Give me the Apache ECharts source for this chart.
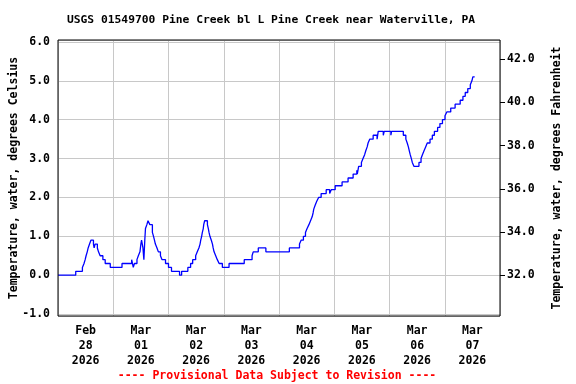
<!DOCTYPE html>
<html>
<head>
<meta charset="utf-8">
<script src="https://cdn.jsdelivr.net/npm/echarts@6/dist/echarts.min.js"></script>
<style>html,body{margin:0;padding:0;background:#fff;}#c{width:576px;height:384px;}</style>
</head>
<body>
<div id="c"></div>
<script>
// Day categories (x labels, centred on each day)
const dayLabels = ["Feb\n28\n2026","Mar\n01\n2026","Mar\n02\n2026","Mar\n03\n2026","Mar\n04\n2026","Mar\n05\n2026","Mar\n06\n2026","Mar\n07\n2026"];
// Hours since 2026-02-28 00:00 where the reading changes
const hours = [0,7.7,10.6,11.3,11.8,12.2,12.7,13.1,13.7,14.3,15.4,15.7,16.1,17.1,17.6,18.3,19.5,20.5,22.7,
27.8,32.0,32.7,33.2,34.3,34.9,35.6,36.0,36.3,36.9,37.3,37.7,38.0,38.6,39.1,39.9,41.0,41.5,41.9,42.3,43.0,43.6,44.5,45.2,46.7,
48.0,49.3,52.8,53.7,56.4,57.6,58.5,59.8,60.5,61.2,61.7,62.0,62.4,62.7,63.1,63.3,63.7,64.9,65.3,65.6,66.0,66.6,67.1,67.4,67.8,68.5,69.2,70.0,71.4,
74.3,80.9,84.3,84.8,87.0,90.3,100.5,104.9,105.6,106.6,107.5,108.2,109.0,109.7,110.4,110.8,111.1,111.7,112.4,113.2,114.3,116.5,118.0,118.7,
120.4,123.4,126.0,128.2,129.8,130.0,130.6,131.8,132.5,133.2,133.7,134.3,134.7,135.4,136.9,138.6,139.1,141.3,141.7,144.6,144.9,
150.0,151.1,151.7,152.2,152.6,153.0,153.5,153.9,154.6,156.8,157.7,158.3,159.0,159.7,160.4,161.6,162.6,163.5,164.9,165.9,167.0,
168.1,168.9,170.6,172.5,174.7,175.9,176.9,178.0,179.1,179.8,180.2,181.0];
// Water temperature, degrees Celsius
const tempC = [0.0,0.1,0.2,0.3,0.4,0.5,0.6,0.7,0.8,0.9,0.8,0.7,0.8,0.7,0.6,0.5,0.4,0.3,0.2,
0.3,0.4,0.2,0.3,0.4,0.5,0.6,0.8,0.9,0.7,0.4,0.9,1.2,1.3,1.4,1.3,1.1,1.0,0.9,0.8,0.7,0.6,0.5,0.4,0.3,
0.2,0.1,0.0,0.1,0.2,0.3,0.4,0.5,0.6,0.7,0.8,0.9,1.0,1.1,1.2,1.3,1.4,1.3,1.2,1.1,1.0,0.9,0.8,0.7,0.6,0.5,0.4,0.3,0.2,
0.3,0.4,0.5,0.6,0.7,0.6,0.7,0.8,0.9,1.0,1.1,1.2,1.3,1.4,1.5,1.6,1.7,1.8,1.9,2.0,2.1,2.2,2.1,2.2,
2.3,2.4,2.5,2.6,2.7,2.6,2.8,2.9,3.0,3.1,3.2,3.3,3.4,3.5,3.6,3.5,3.7,3.6,3.7,3.6,3.7,
3.6,3.5,3.4,3.3,3.2,3.1,3.0,2.9,2.8,2.9,3.0,3.1,3.2,3.3,3.4,3.5,3.6,3.7,3.8,3.9,4.0,
4.1,4.2,4.3,4.4,4.5,4.6,4.7,4.8,4.9,5.0,5.1,5.1];

const FONT = '"DejaVu Sans Mono", monospace';
const cMin = -1.05, cMax = 6.05;
const chart = echarts.init(document.getElementById('c'), null, {renderer:'canvas'});
chart.setOption({
  animation: false,
  backgroundColor: '#fff',
  title: [
    {text: 'USGS 01549700 Pine Creek bl L Pine Creek near Waterville, PA', left: 266, top: 10, textAlign: 'center',
     textStyle: {fontFamily: FONT, fontSize: 11.3, fontWeight: 'bold', color: '#000'}},
    {text: '---- Provisional Data Subject to Revision ----', left: 272, top: 365, textAlign: 'center',
     textStyle: {fontFamily: FONT, fontSize: 11.5, fontWeight: 'bold', color: '#ff0000'}}
  ],
  grid: {left: 58, right: 76, top: 40, bottom: 68, outerBoundsMode: 'none', containLabel: false,
         show: true, z: 10, borderColor: '#000', borderWidth: 1, backgroundColor: 'transparent'},
  xAxis: [
    {type: 'category', data: dayLabels, boundaryGap: true,
     axisLine: {show: false}, axisTick: {show: false},
     splitLine: {show: true, lineStyle: {color: '#c8c8c8', width: 1}},
     axisLabel: {fontFamily: FONT, fontSize: 11.5, fontWeight: 'bold', color: '#000', lineHeight: 15, margin: 8, interval: 0}},
    {type: 'value', min: 0, max: 192, show: false}
  ],
  yAxis: [
    {type: 'value', min: cMin, max: cMax, splitNumber: 7, position: 'left',
     name: 'Temperature, water, degrees Celsius', nameLocation: 'middle', nameGap: 38, nameRotate: 90, nameMoveOverlap: false,
     nameTextStyle: {fontFamily: FONT, fontSize: 11.5, fontWeight: 'bold', color: '#000'},
     axisLine: {show: false}, axisTick: {show: false},
     splitLine: {show: true, lineStyle: {color: '#c8c8c8', width: 1}},
     axisLabel: {fontFamily: FONT, fontSize: 11.5, fontWeight: 'bold', color: '#000', margin: 8, showMinLabel: false, showMaxLabel: false,
       formatter: v => v.toFixed(1)}},
    {type: 'value', min: cMin * 1.8 + 32, max: cMax * 1.8 + 32, splitNumber: 6, position: 'right',
     name: 'Temperature, water, degrees Fahrenheit', nameLocation: 'middle', nameGap: 51, nameRotate: 90, nameMoveOverlap: false,
     nameTextStyle: {fontFamily: FONT, fontSize: 11.5, fontWeight: 'bold', color: '#000'},
     axisLine: {show: false},
     axisTick: {show: true, inside: false, length: 5, lineStyle: {color: '#000'}},
     splitLine: {show: false},
     axisLabel: {fontFamily: FONT, fontSize: 11.5, fontWeight: 'bold', color: '#000', margin: 7, showMinLabel: false, showMaxLabel: false,
       formatter: v => v.toFixed(1)}}
  ],
  series: [{
    type: 'line', xAxisIndex: 1, yAxisIndex: 0, step: 'end', showSymbol: false,
    lineStyle: {color: '#0000ff', width: 1.3}, clip: true,
    data: hours.map((h, i) => [h, tempC[i]])
  }]
});
</script>
</body>
</html>
